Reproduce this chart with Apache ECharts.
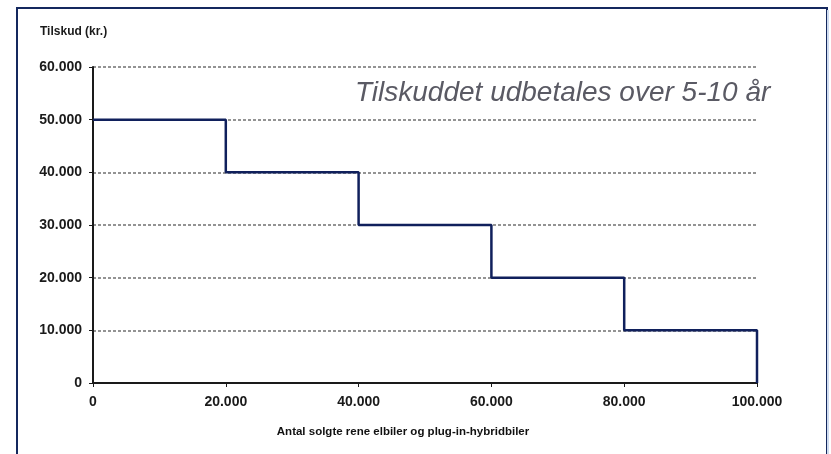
<!DOCTYPE html>
<html><head><meta charset="utf-8">
<script src="https://cdn.jsdelivr.net/npm/echarts@6/dist/echarts.min.js"></script>
<style>html,body{margin:0;padding:0;background:#fff}#c{width:831px;height:454px}</style>
</head><body><div id="c"></div>
<script>
const xValues = [0, 20000, 40000, 60000, 80000, 100000];
const yValues = [50000, 40000, 30000, 20000, 10000, 0];
const yAxisTitle = 'Tilskud (kr.)';
const xAxisTitle = 'Antal solgte rene elbiler og plug-in-hybridbiler';
const note = 'Tilskuddet udbetales over 5-10 år';

const fmt = v => v === 0 ? '0' : String(v).replace(/\B(?=(\d{3})+(?!\d))/g, '.');
const chart = echarts.init(document.getElementById('c'));
const lbl = {color:'#1a1a1a', fontFamily:'Liberation Sans, Arial, sans-serif', fontSize:14, fontWeight:'bold'};
chart.setOption({
  animation:false,
  backgroundColor:'#fff',
  grid:{left:93, right:74, top:67, bottom:71},
  graphic:[
    {type:'rect', shape:{x:17, y:8, width:810, height:460}, style:{fill:'none', stroke:'#14285e', lineWidth:2}, z:-1},
    {type:'line', shape:{x1:828, y1:10, x2:828, y2:454}, style:{stroke:'#cfdcf0', lineWidth:2}},
    {type:'text', left:40, top:26, style:{text:yAxisTitle, fill:'#1a1a1a', font:'bold 12px Liberation Sans, Arial, sans-serif'}},
    {type:'text', x:355, y:93, style:{text:note, fill:'#5a5a64', textVerticalAlign:'middle', font:'italic 28px Liberation Sans, Arial, sans-serif'}}
  ],
  xAxis:{type:'value', min:0, max:100000, interval:20000,
    name:xAxisTitle, nameLocation:'middle', nameGap:43,
    nameTextStyle:{color:'#111', fontFamily:'Liberation Sans, Arial, sans-serif', fontSize:11.5, fontWeight:'bold', padding:[0,44,0,0]},
    axisLine:{show:true, lineStyle:{color:'#1a1a1a', width:2}},
    axisTick:{show:true, length:4, lineStyle:{color:'#1a1a1a'}},
    axisLabel:Object.assign({margin:12, formatter:fmt}, lbl),
    splitLine:{show:false}},
  yAxis:{type:'value', min:0, max:60000, interval:10000,
    axisLine:{show:true, lineStyle:{color:'#1a1a1a', width:2}},
    axisTick:{show:true, length:4, lineStyle:{color:'#1a1a1a'}},
    axisLabel:Object.assign({margin:11, formatter:fmt, padding:[5,0,0,0]}, lbl),
    splitLine:{show:true, lineStyle:{color:'#707070', width:1.5, type:[3,2]}}},
  series:[{type:'line', step:'end', symbol:'none',
    data:xValues.map((x,i)=>[x, yValues[i]]),
    lineStyle:{color:'#10205c', width:2.5}}]
});
</script></body></html>
